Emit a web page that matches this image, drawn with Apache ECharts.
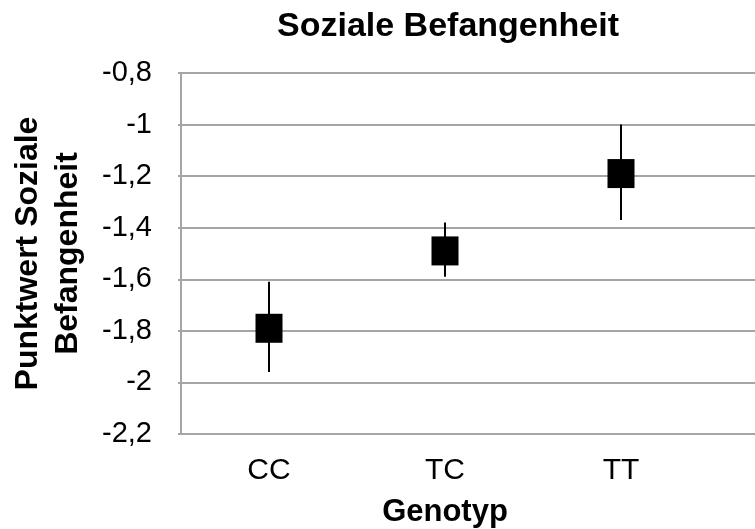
<!DOCTYPE html>
<html>
<head>
<meta charset="utf-8">
<script src="https://cdn.jsdelivr.net/npm/echarts@6/dist/echarts.min.js"></script>
<style>
  html, body { margin: 0; padding: 0; background: #fff; }
  #container { width: 755px; height: 529px; }
</style>
</head>
<body>
<div id="container"></div>
<script>
var dom = document.getElementById('container');
var myChart = echarts.init(dom, null, { renderer: 'canvas' });

// data
var genotypes = ['CC', 'TC', 'TT'];
var means = [-1.79, -1.49, -1.19];
var upper = [-1.61, -1.38, -1.00];
var lower = [-1.96, -1.59, -1.37];

var font = "'Liberation Sans', Arial, sans-serif";
var gridColor = '#a5a5a5';

var errData = genotypes.map(function (g, i) {
    return [i, lower[i], upper[i]];
});

var option = {
    backgroundColor: '#ffffff',
    animation: false,
    title: {
        text: 'Soziale Befangenheit',
        left: 443,
        top: 5,
        textAlign: 'center',
        textStyle: { fontFamily: font, fontSize: 34, fontWeight: 'bold', color: '#000' }
    },
    grid: [
        { left: 181, top: 73, width: 528, bottom: 95, outerBoundsMode: 'none', containLabel: false },
        // gridlines continue past the last category to the right edge
        { left: 709, top: 73, right: 0, bottom: 95, outerBoundsMode: 'none', containLabel: false }
    ],
    xAxis: [
        {
            type: 'category',
            gridIndex: 0,
            data: genotypes,
            name: 'Genotyp',
            nameLocation: 'middle',
            nameGap: 63,
            nameTextStyle: { fontFamily: font, fontSize: 31, fontWeight: 'bold', color: '#000' },
            axisLine: { show: false },
            axisTick: { show: false },
            axisLabel: { fontFamily: font, fontSize: 30, color: '#000', margin: 22 }
        },
        {
            type: 'category',
            gridIndex: 1,
            data: [''],
            axisLine: { show: false },
            axisTick: { show: false },
            axisLabel: { show: false }
        }
    ],
    yAxis: [
        {
            type: 'value',
            gridIndex: 0,
            min: -2.2,
            max: -0.8,
            interval: 0.2,
            name: 'Punktwert Soziale\nBefangenheit',
            nameLocation: 'middle',
            nameGap: 93,
            nameTextStyle: { fontFamily: font, fontSize: 32, fontWeight: 'bold', color: '#000', lineHeight: 40 },
            axisLine: { show: true, lineStyle: { color: gridColor, width: 2 } },
            axisTick: { show: true, length: 3, lineStyle: { color: gridColor, width: 2 } },
            splitLine: { show: true, lineStyle: { color: gridColor, width: 2 } },
            axisLabel: {
                fontFamily: font, fontSize: 29, color: '#000', margin: 29,
                formatter: function (v) {
                    return String(Math.round(v * 10) / 10).replace('.', ',');
                }
            }
        },
        {
            type: 'value',
            gridIndex: 1,
            min: -2.2,
            max: -0.8,
            interval: 0.2,
            axisLine: { show: false },
            axisTick: { show: false },
            axisLabel: { show: false },
            splitLine: { show: true, lineStyle: { color: gridColor, width: 2 } }
        }
    ],
    series: [
        {
            type: 'custom',
            xAxisIndex: 0,
            yAxisIndex: 0,
            data: errData,
            renderItem: function (params, api) {
                var lo = api.coord([api.value(0), api.value(1)]);
                var hi = api.coord([api.value(0), api.value(2)]);
                return {
                    type: 'line',
                    shape: { x1: lo[0], y1: lo[1], x2: hi[0], y2: hi[1] },
                    style: { stroke: '#000', lineWidth: 2 }
                };
            },
            z: 3
        },
        {
            type: 'scatter',
            xAxisIndex: 0,
            yAxisIndex: 0,
            symbol: 'rect',
            symbolSize: [27, 29],
            itemStyle: { color: '#000', opacity: 1 },
            data: means,
            z: 4
        }
    ]
};

myChart.setOption(option);
window.addEventListener('resize', myChart.resize);
</script>
</body>
</html>
